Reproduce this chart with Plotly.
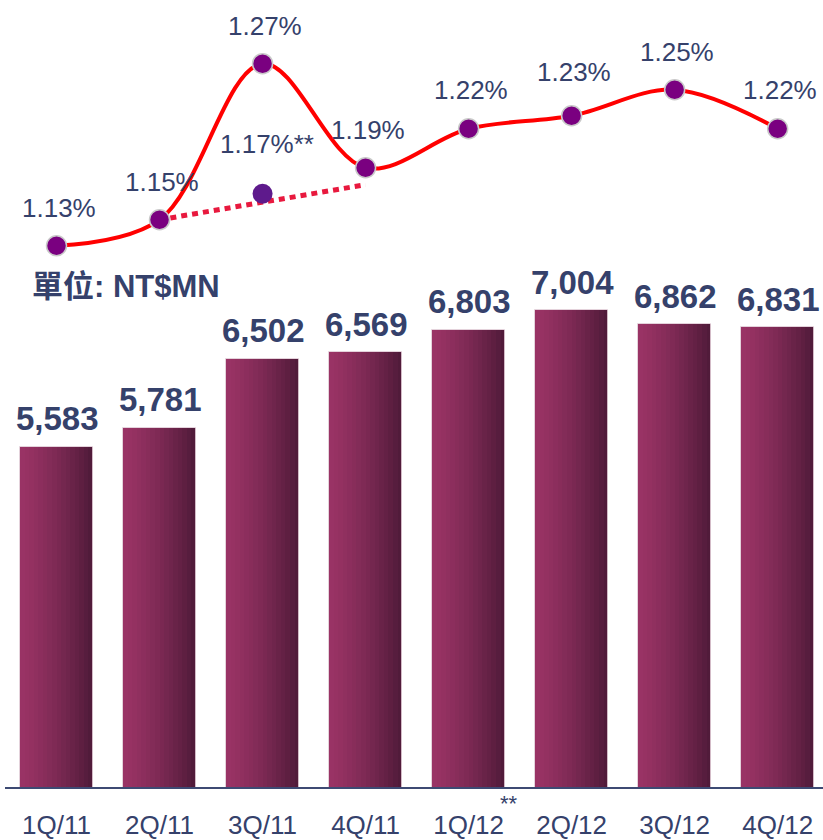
import plotly.graph_objects as go

# ---------------- data ----------------
quarters = ["1Q/11", "2Q/11", "3Q/11", "4Q/11", "1Q/12", "2Q/12", "3Q/12", "4Q/12"]
amounts = [5583, 5781, 6502, 6569, 6803, 7004, 6862, 6831]          # NT$MN
ratio = [1.13, 1.15, 1.27, 1.19, 1.22, 1.23, 1.25, 1.22]           # %
adj_x = ["3Q/11"]
adj_ratio = [1.17]                                                  # adjusted 3Q/11 (**)
dotted_x = ["2Q/11", "4Q/11"]
dotted_ratio = [1.15, 1.177]
unit_label = "單位: NT$MN"

# ---------------- styles ----------------
TXT = "#35416b"
FONT = "Arial, Liberation Sans, Noto Sans CJK TC, sans-serif"
BW = 0.709           # bar width (category units)
NSL = 16             # gradient slices per bar
C_LEFT = (0x9a, 0x33, 0x65)
C_RIGHT = (0x4e, 0x1a, 0x38)

fig = go.Figure()

# bars drawn as horizontal-gradient slices
for i in range(NSL):
    t = (i + 0.5) / NSL
    t2 = t ** 1.35
    c = tuple(int(round(C_LEFT[k] + (C_RIGHT[k] - C_LEFT[k]) * t2)) for k in range(3))
    w = BW / NSL
    fig.add_trace(go.Bar(
        x=quarters, y=amounts,
        width=w * (1.0 if i == NSL - 1 else 1.15),
        offset=-BW / 2 + i * w,
        marker=dict(color="rgb(%d,%d,%d)" % c, line=dict(width=0)),
        hoverinfo="skip", showlegend=False, yaxis="y",
    ))
# faint light outline
fig.add_trace(go.Bar(
    x=quarters, y=amounts, width=BW, offset=-BW / 2,
    marker=dict(color="rgba(0,0,0,0)", line=dict(width=1, color="rgba(225,205,215,0.9)")),
    hoverinfo="skip", showlegend=False, yaxis="y",
))

# dotted adjusted line
fig.add_trace(go.Scatter(
    x=dotted_x, y=dotted_ratio, mode="lines", yaxis="y2",
    line=dict(color="#e8193e", width=5, dash="6px,5px"),
    hoverinfo="skip", showlegend=False,
))
# main ratio line
fig.add_trace(go.Scatter(
    x=quarters, y=ratio, mode="lines+markers", yaxis="y2",
    line=dict(color="#ff0000", width=4, shape="spline", smoothing=1.0),
    marker=dict(size=20, color="#7a0080", line=dict(width=1.5, color="#c9c9c9")),
    cliponaxis=False, showlegend=False,
))
# adjusted point
fig.add_trace(go.Scatter(
    x=adj_x, y=adj_ratio, mode="markers", yaxis="y2",
    marker=dict(size=20, color="#5e1a8c", line=dict(width=0)),
    cliponaxis=False, showlegend=False,
))

annotations = []
# bar value labels
for q, v in zip(quarters, amounts):
    annotations.append(dict(
        x=q, y=v, xref="x", yref="y", text=f"{v:,}", showarrow=False,
        yanchor="middle", yshift=28, xshift=1,
        font=dict(family=FONT, size=33, color=TXT, weight="bold"),
    ))
# ratio labels
pct_dy = [38, 38, 38, 38, 39, 44, 38, 39]
for q, r, dy in zip(quarters, ratio, pct_dy):
    annotations.append(dict(
        x=q, y=r, xref="x", yref="y2", text=f"{r:.2f}%", showarrow=False,
        yanchor="middle", yshift=dy, xshift=2,
        font=dict(family=FONT, size=26, color=TXT),
    ))
for q, r in zip(adj_x, adj_ratio):
    annotations.append(dict(
        x=q, y=r, xref="x", yref="y2", text=f"{r:.2f}%**", showarrow=False,
        yanchor="middle", yshift=50, xshift=4,
        font=dict(family=FONT, size=26, color=TXT),
    ))
# unit label
annotations.append(dict(
    x=25 / 818, y=1 - 288 / 791, xref="paper", yref="paper", text=unit_label,
    showarrow=False, xanchor="left", yanchor="middle",
    font=dict(family=FONT, size=31, color=TXT, weight="bold"),
))
# ** above 1Q/12
annotations.append(dict(
    x="1Q/12", y=0, xref="x", yref="paper", text="**", showarrow=False,
    xshift=40, yshift=-16, yanchor="middle",
    font=dict(family=FONT, size=22, color=TXT),
))

fig.update_layout(
    width=823, height=840,
    margin=dict(l=5, r=0, t=0, b=49),
    paper_bgcolor="white", plot_bgcolor="white",
    barmode="overlay", bargap=0,
    showlegend=False,
    annotations=annotations,
    xaxis=dict(
        type="category", categoryorder="array", categoryarray=quarters,
        range=[-0.5, 7.44], showgrid=False, zeroline=False,
        showline=True, linecolor="#3d4a73", linewidth=2,
        ticks="outside", ticklen=14, tickcolor="rgba(0,0,0,0)",
        tickfont=dict(family=FONT, size=26, color=TXT),
    ),
    yaxis=dict(range=[2036, 10241], visible=False, showgrid=False, zeroline=False),
    yaxis2=dict(range=[0.7138, 1.3190], overlaying="y", visible=False,
                showgrid=False, zeroline=False),
)

fig.write_html(
    "out.html",
    config={"displayModeBar": False},
    post_script="document.body.style.margin='0';document.body.style.overflow='hidden';",
)
